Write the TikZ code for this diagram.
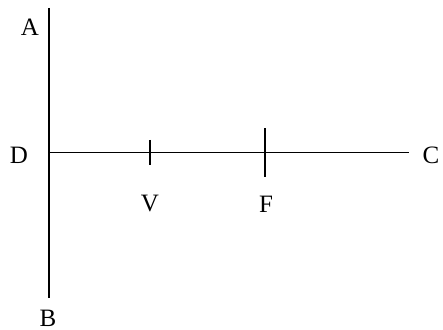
\documentclass[tikz,border=0pt]{standalone}
\usepackage{fontspec}
\setmainfont{Liberation Serif}
\begin{document}
\begin{tikzpicture}[x=1pt,y=1pt,
  lbl/.style={font=\fontsize{25}{27}\selectfont, inner sep=0pt, anchor=center},
  axis/.style={line width=1.6pt},
  hline/.style={line width=1.1pt},
  tick/.style={line width=1.6pt}]
\useasboundingbox (0,0) rectangle (443,329);
\coordinate (top) at (49,321);
\coordinate (bot) at (49,31);
\coordinate (d) at (49,176.3);
\coordinate (c) at (409,176.3);
\coordinate (v1) at (150,189);
\coordinate (v2) at (150,164);
\coordinate (f1) at (265,200.5);
\coordinate (f2) at (265,151.5);
\draw[axis] (top) -- (bot);
\draw[hline] (d) -- (c);
\draw[tick] (v1) -- (v2);
\draw[tick] (f1) -- (f2);
\node[lbl] (A) at (30,302) {A};
\node[lbl] (D) at (19,174) {D};
\node[lbl] (C) at (431,174) {C};
\node[lbl] (V) at (150,125) {V};
\node[lbl] (F) at (266,125) {F};
\node[lbl] (B) at (48,11) {B};
\end{tikzpicture}
\end{document}
